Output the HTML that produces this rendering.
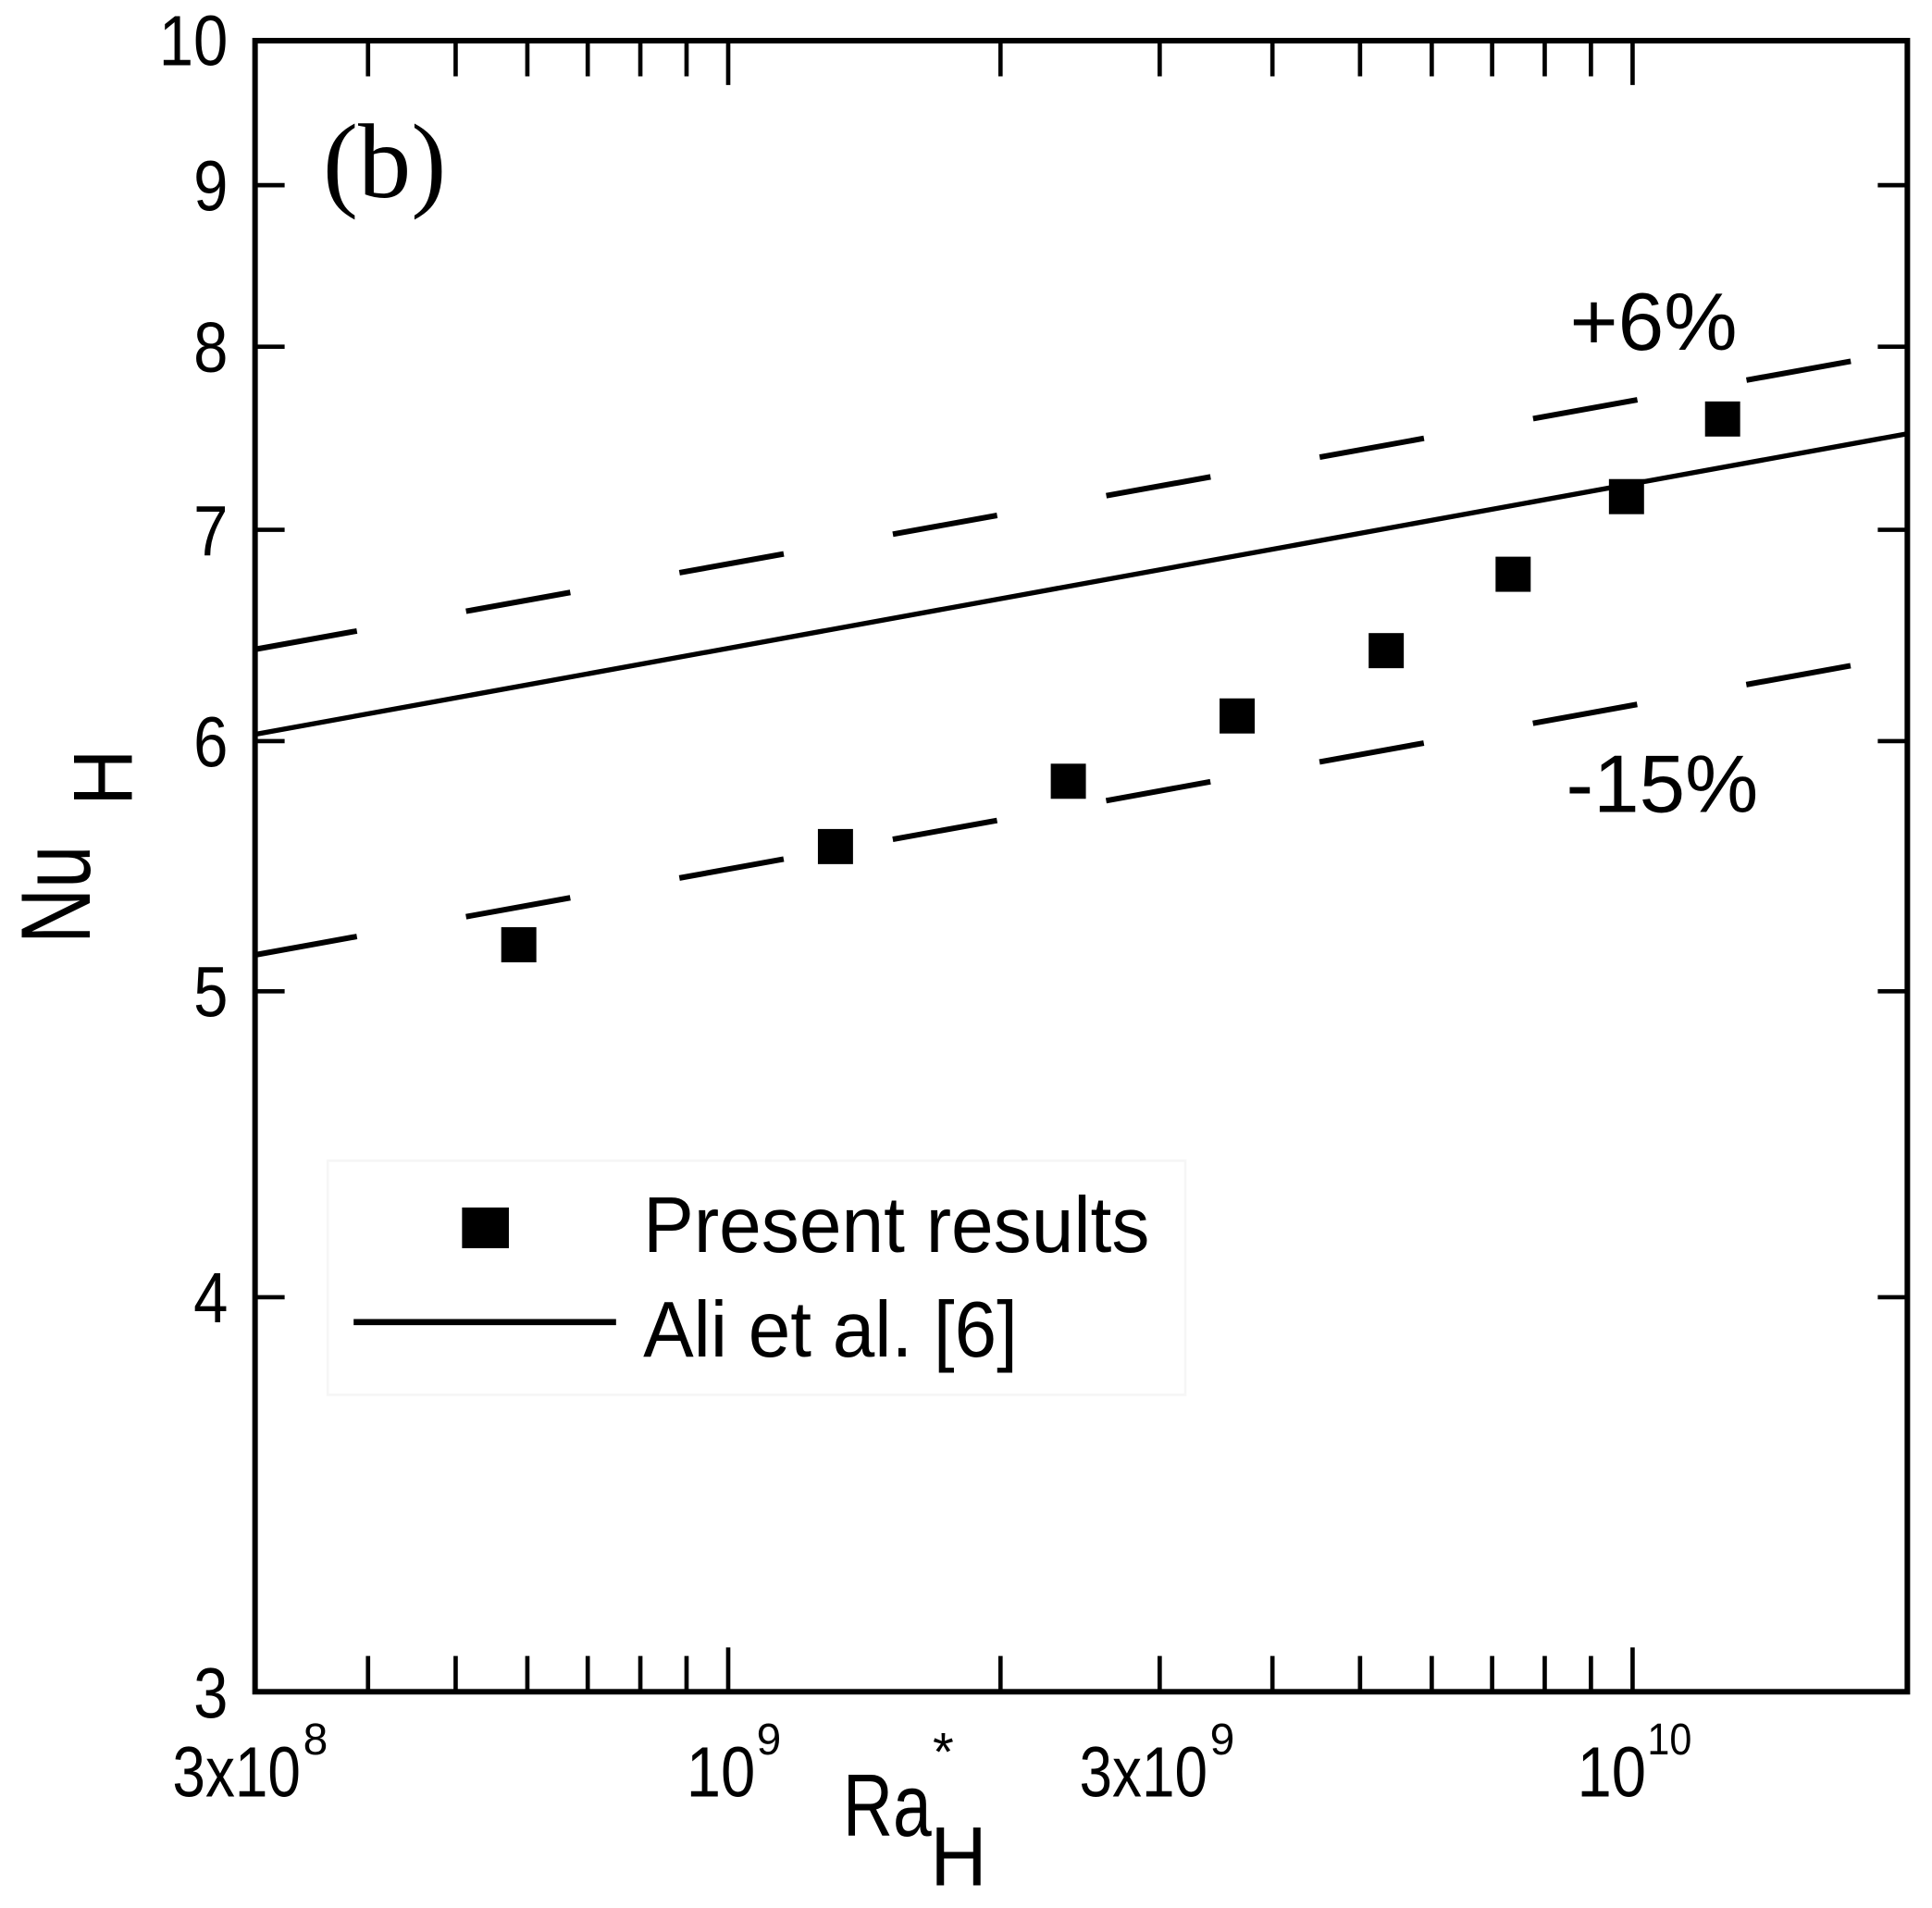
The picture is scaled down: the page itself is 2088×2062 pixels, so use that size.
<!DOCTYPE html>
<html><head><meta charset="utf-8"><style>html,body{margin:0;padding:0;background:#fff;}svg{display:block}</style></head>
<body>
<svg width="2088" height="2062" viewBox="0 0 1568 1548.5" preserveAspectRatio="none" xmlns="http://www.w3.org/2000/svg">
<rect width="1568" height="1548.5" fill="#fff"/>
<rect x="266" y="942" width="696" height="190" fill="none" stroke="#f6f6f6" stroke-width="2"/>
<rect x="207" y="33" width="1341" height="1340" fill="none" stroke="#000" stroke-width="4.5"/>
<g stroke="#000" stroke-width="3.5">
<path d="M207 150.3h24M207 281.4h24M207 430h24M207 601.5h24M207 804.5h24M207 1052.8h24
M1548 150.3h-24M1548 281.4h-24M1548 430h-24M1548 601.5h-24M1548 804.5h-24M1548 1052.8h-24"/>
<path d="M298.7 1373v-29M369.8 1373v-29M428 1373v-29M477 1373v-29M519.7 1373v-29M557.2 1373v-29M591 1373v-36
M812 1373v-29M941.2 1373v-29M1032.7 1373v-29M1103.8 1373v-29M1162 1373v-29M1211 1373v-29M1253.7 1373v-29M1291.2 1373v-29M1325 1373v-36"/>
<path d="M298.7 33v29M369.8 33v29M428 33v29M477 33v29M519.7 33v29M557.2 33v29M591 33v36
M812 33v29M941.2 33v29M1032.7 33v29M1103.8 33v29M1162 33v29M1211 33v29M1253.7 33v29M1291.2 33v29M1325 33v36"/>
</g>
<line x1="207" y1="596" x2="1548" y2="352" stroke="#000" stroke-width="4"/>
<line x1="207" y1="527" x2="1520" y2="290" stroke="#000" stroke-width="4.5" stroke-dasharray="86 90" stroke-dashoffset="2"/>
<line x1="207" y1="775" x2="1520" y2="537" stroke="#000" stroke-width="4.5" stroke-dasharray="86 90" stroke-dashoffset="2"/>
<g fill="#000">
<rect x="406.8" y="752.5" width="28.5" height="28.5"/>
<rect x="663.8" y="672.8" width="28.5" height="28.5"/>
<rect x="852.8" y="619.8" width="28.5" height="28.5"/>
<rect x="989.8" y="566.8" width="28.5" height="28.5"/>
<rect x="1110.8" y="513.8" width="28.5" height="28.5"/>
<rect x="1213.8" y="451.8" width="28.5" height="28.5"/>
<rect x="1305.8" y="388.8" width="28.5" height="28.5"/>
<rect x="1383.8" y="325.8" width="28.5" height="28.5"/>
<rect x="375" y="980" width="38" height="33"/>
</g>
<line x1="287" y1="1073" x2="500" y2="1073" stroke="#000" stroke-width="5"/>
<g font-family="'Liberation Sans', sans-serif" fill="#000">
<text x="522" y="1016" font-size="64" textLength="411" lengthAdjust="spacingAndGlyphs">Present results</text>
<text x="522" y="1101" font-size="64" textLength="304" lengthAdjust="spacingAndGlyphs">Ali et al. [6]</text>
<text x="1274" y="284" font-size="66" textLength="136" lengthAdjust="spacingAndGlyphs">+6%</text>
<text x="1271" y="659" font-size="66" textLength="156" lengthAdjust="spacingAndGlyphs">-15%</text>
<g font-size="58" text-anchor="end">
<text x="185" y="53" textLength="56" lengthAdjust="spacingAndGlyphs">10</text>
<text x="185" y="171" textLength="28" lengthAdjust="spacingAndGlyphs">9</text>
<text x="185" y="302" textLength="28" lengthAdjust="spacingAndGlyphs">8</text>
<text x="185" y="451" textLength="28" lengthAdjust="spacingAndGlyphs">7</text>
<text x="185" y="622" textLength="28" lengthAdjust="spacingAndGlyphs">6</text>
<text x="185" y="825" textLength="28" lengthAdjust="spacingAndGlyphs">5</text>
<text x="185" y="1073" textLength="28" lengthAdjust="spacingAndGlyphs">4</text>
<text x="185" y="1394" textLength="28" lengthAdjust="spacingAndGlyphs">3</text>
</g>
<g font-size="58">
<text x="140" y="1458" textLength="104" lengthAdjust="spacingAndGlyphs">3x10</text>
<text x="246" y="1424" font-size="36">8</text>
<text x="557" y="1458" textLength="56" lengthAdjust="spacingAndGlyphs">10</text>
<text x="614" y="1424" font-size="36">9</text>
<text x="876" y="1458" textLength="104" lengthAdjust="spacingAndGlyphs">3x10</text>
<text x="982" y="1424" font-size="36">9</text>
<text x="1280" y="1458" textLength="56" lengthAdjust="spacingAndGlyphs">10</text>
<text x="1337" y="1424" font-size="36" textLength="36" lengthAdjust="spacingAndGlyphs">10</text>
</g>
<text x="684" y="1490" font-size="72" textLength="72" lengthAdjust="spacingAndGlyphs">Ra</text>
<text x="757" y="1437" font-size="44">*</text>
<text x="755" y="1530" font-size="68" textLength="46" lengthAdjust="spacingAndGlyphs">H</text>
<text transform="translate(73,766) rotate(-90)" font-size="80" textLength="80" lengthAdjust="spacingAndGlyphs">Nu</text>
<text transform="translate(107,654) rotate(-90)" font-size="68" textLength="46" lengthAdjust="spacingAndGlyphs">H</text>
</g>
<text x="262" y="160" font-family="'Liberation Serif', serif" font-size="86">(b)</text>
</svg>
</body></html>
